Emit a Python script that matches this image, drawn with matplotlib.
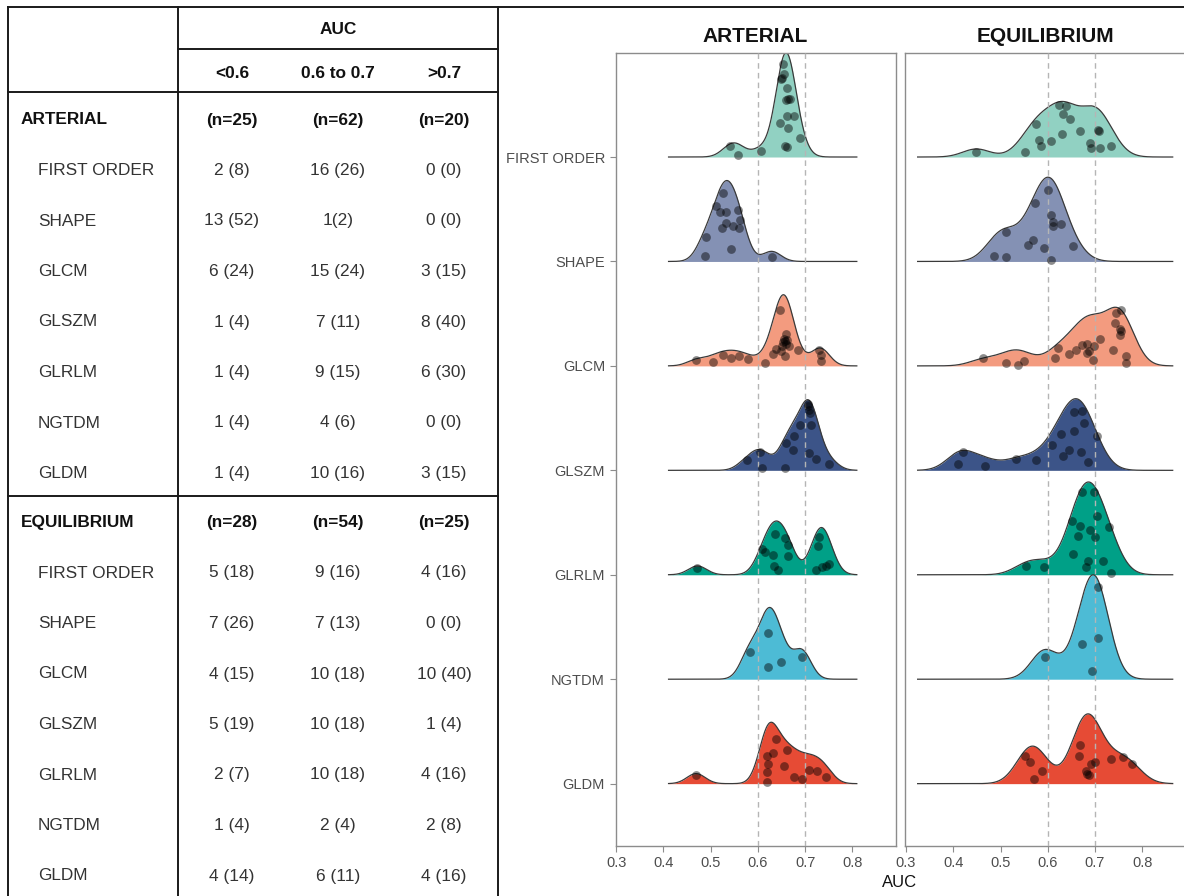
import numpy as np
import matplotlib
matplotlib.use("Agg")
import matplotlib.pyplot as plt

plt.rcParams['font.family'] = ['Liberation Sans', 'DejaVu Sans']

W, H = 1184, 896

# ===== TABLE DATA =====
auc_bins = ["<0.6", "0.6 to 0.7", ">0.7"]
features = ["FIRST ORDER", "SHAPE", "GLCM", "GLSZM", "GLRLM", "NGTDM", "GLDM"]

arterial_n = ["(n=25)", "(n=62)", "(n=20)"]
arterial_counts = [
    ["2 (8)", "16 (26)", "0 (0)"],
    ["13 (52)", "1(2)", "0 (0)"],
    ["6 (24)", "15 (24)", "3 (15)"],
    ["1 (4)", "7 (11)", "8 (40)"],
    ["1 (4)", "9 (15)", "6 (30)"],
    ["1 (4)", "4 (6)", "0 (0)"],
    ["1 (4)", "10 (16)", "3 (15)"],
]
equilibrium_n = ["(n=28)", "(n=54)", "(n=25)"]
equilibrium_counts = [
    ["5 (18)", "9 (16)", "4 (16)"],
    ["7 (26)", "7 (13)", "0 (0)"],
    ["4 (15)", "10 (18)", "10 (40)"],
    ["5 (19)", "10 (18)", "1 (4)"],
    ["2 (7)", "10 (18)", "4 (16)"],
    ["1 (4)", "2 (4)", "2 (8)"],
    ["4 (14)", "6 (11)", "4 (16)"],
]

# ===== RIDGE DATA (AUC per model, and the vertical jitter of each dot) =====
art_first_order = [0.540, 0.558, 0.607, 0.654, 0.656, 0.648, 0.650, 0.661, 0.659, 0.667, 0.664, 0.662, 0.676, 0.646, 0.664, 0.688, 0.657, 0.661]
art_first_order_jit = [0.108, 0.016, 0.060, 0.888, 0.795, 0.747, 0.757, 0.658, 0.546, 0.553, 0.560, 0.393, 0.393, 0.323, 0.281, 0.179, 0.108, 0.099]
art_shape = [0.525, 0.511, 0.519, 0.532, 0.558, 0.563, 0.533, 0.547, 0.560, 0.524, 0.490, 0.542, 0.488, 0.629]
art_shape_jit = [0.655, 0.534, 0.470, 0.470, 0.495, 0.393, 0.368, 0.342, 0.323, 0.316, 0.234, 0.119, 0.048, 0.042]
art_glcm = [0.469, 0.504, 0.525, 0.542, 0.559, 0.579, 0.614, 0.646, 0.659, 0.655, 0.653, 0.650, 0.660, 0.666, 0.639, 0.657, 0.632, 0.658, 0.685, 0.662, 0.648, 0.730, 0.733, 0.733]
art_glcm_jit = [0.055, 0.038, 0.102, 0.077, 0.096, 0.064, 0.032, 0.537, 0.304, 0.262, 0.224, 0.192, 0.208, 0.192, 0.160, 0.240, 0.112, 0.096, 0.150, 0.250, 0.140, 0.153, 0.102, 0.048]
art_glszm = [0.576, 0.604, 0.609, 0.657, 0.659, 0.676, 0.674, 0.690, 0.706, 0.708, 0.711, 0.713, 0.708, 0.722, 0.751, 0.705]
art_glszm_jit = [0.096, 0.172, 0.022, 0.022, 0.262, 0.332, 0.192, 0.435, 0.639, 0.581, 0.550, 0.435, 0.167, 0.109, 0.064, 0.620]
art_glrlm = [0.472, 0.635, 0.609, 0.614, 0.632, 0.633, 0.642, 0.657, 0.664, 0.664, 0.730, 0.727, 0.723, 0.736, 0.743, 0.750]
art_glrlm_jit = [0.061, 0.390, 0.246, 0.214, 0.188, 0.086, 0.041, 0.348, 0.287, 0.182, 0.358, 0.278, 0.041, 0.073, 0.086, 0.105]
art_ngtdm = [0.621, 0.583, 0.621, 0.648, 0.693]
art_ngtdm_jit = [0.447, 0.258, 0.121, 0.163, 0.211]
art_gldm = [0.469, 0.638, 0.631, 0.619, 0.621, 0.619, 0.619, 0.662, 0.656, 0.676, 0.693, 0.709, 0.725, 0.743]
art_gldm_jit = [0.083, 0.425, 0.297, 0.265, 0.189, 0.115, 0.019, 0.323, 0.170, 0.061, 0.042, 0.128, 0.119, 0.067]

eq_first_order = [0.449, 0.551, 0.575, 0.582, 0.585, 0.606, 0.624, 0.638, 0.632, 0.648, 0.630, 0.668, 0.689, 0.692, 0.708, 0.706, 0.711, 0.734]
eq_first_order_jit = [0.051, 0.045, 0.313, 0.163, 0.108, 0.153, 0.495, 0.489, 0.409, 0.361, 0.220, 0.249, 0.137, 0.083, 0.252, 0.262, 0.086, 0.105]
eq_shape = [0.601, 0.574, 0.606, 0.611, 0.611, 0.629, 0.511, 0.569, 0.558, 0.592, 0.653, 0.606, 0.487, 0.511]
eq_shape_jit = [0.687, 0.559, 0.447, 0.374, 0.335, 0.354, 0.278, 0.201, 0.160, 0.125, 0.144, 0.016, 0.048, 0.038]
eq_glcm = [0.463, 0.511, 0.536, 0.550, 0.616, 0.622, 0.645, 0.659, 0.684, 0.682, 0.687, 0.696, 0.697, 0.672, 0.711, 0.738, 0.742, 0.745, 0.756, 0.752, 0.755, 0.752, 0.765, 0.765]
eq_glcm_jit = [0.071, 0.032, 0.007, 0.048, 0.071, 0.172, 0.118, 0.150, 0.208, 0.128, 0.140, 0.055, 0.192, 0.200, 0.262, 0.150, 0.415, 0.511, 0.534, 0.351, 0.335, 0.294, 0.090, 0.032]
eq_glszm = [0.421, 0.411, 0.468, 0.532, 0.576, 0.609, 0.627, 0.632, 0.646, 0.655, 0.655, 0.672, 0.677, 0.670, 0.685, 0.704]
eq_glszm_jit = [0.172, 0.061, 0.038, 0.109, 0.096, 0.246, 0.351, 0.141, 0.192, 0.374, 0.562, 0.572, 0.454, 0.176, 0.080, 0.326]
eq_glrlm = [0.554, 0.592, 0.653, 0.652, 0.669, 0.664, 0.673, 0.698, 0.690, 0.699, 0.704, 0.729, 0.717, 0.734, 0.685, 0.680]
eq_glrlm_jit = [0.086, 0.073, 0.201, 0.517, 0.469, 0.374, 0.788, 0.788, 0.431, 0.358, 0.559, 0.453, 0.128, 0.016, 0.134, 0.073]
eq_ngtdm = [0.706, 0.706, 0.673, 0.594, 0.694]
eq_ngtdm_jit = [0.887, 0.393, 0.335, 0.217, 0.080]
eq_gldm = [0.551, 0.563, 0.587, 0.571, 0.669, 0.666, 0.692, 0.701, 0.680, 0.684, 0.687, 0.734, 0.759, 0.778]
eq_gldm_jit = [0.268, 0.211, 0.125, 0.042, 0.368, 0.268, 0.189, 0.211, 0.122, 0.093, 0.085, 0.233, 0.259, 0.189]

colors = ["#91D1C2", "#8491B4", "#F39B7F", "#3C5488", "#00A087", "#4DBBD5", "#E64B35"]
cutoffs = [0.6, 0.7]

panels = [
    ("ARTERIAL",
     [art_first_order, art_shape, art_glcm, art_glszm, art_glrlm, art_ngtdm, art_gldm],
     [art_first_order_jit, art_shape_jit, art_glcm_jit, art_glszm_jit, art_glrlm_jit, art_ngtdm_jit, art_gldm_jit]),
    ("EQUILIBRIUM",
     [eq_first_order, eq_shape, eq_glcm, eq_glszm, eq_glrlm, eq_ngtdm, eq_gldm],
     [eq_first_order_jit, eq_shape_jit, eq_glcm_jit, eq_glszm_jit, eq_glrlm_jit, eq_ngtdm_jit, eq_gldm_jit]),
]


def bw_nrd0(x):
    x = np.asarray(x)
    hi = x.std(ddof=1)
    q75, q25 = np.percentile(x, [75, 25])
    lo = min(hi, (q75 - q25) / 1.34)
    if lo == 0:
        lo = hi
    return 0.9 * lo * len(x) ** -0.2


def kde(x, grid, bw):
    x = np.asarray(x)
    z = (grid[:, None] - x[None, :]) / bw
    return np.exp(-0.5 * z * z).sum(axis=1) / (len(x) * bw * np.sqrt(2 * np.pi))


# joint bandwidth per panel (mean of group bandwidths), density over panel range +- 3 bw,
# heights scaled to the tallest ridge of each panel
dens = []
for title, groups, jits in panels:
    bw = np.mean([bw_nrd0(g) for g in groups])
    allx = np.concatenate(groups)
    grid = np.linspace(allx.min() - 3 * bw, allx.max() + 3 * bw, 512)
    ds = [kde(g, grid, bw) for g in groups]
    top = max(d.max() for d in ds)
    dens.append((grid, [d / top for d in ds]))


def px(x0, y0, w, h):
    return [x0 / W, 1 - (y0 + h) / H, w / W, h / H]


fig = plt.figure(figsize=(W / 100, H / 100), dpi=100)

# ===== TABLE =====
tab = fig.add_axes([0, 0, 1, 1])
tab.set_xlim(0, W)
tab.set_ylim(H, 0)
tab.axis("off")
lc = "#1a1a1a"
lw = 1.4
tab.plot([8, W], [7, 7], color=lc, lw=lw)
for xv in [8.3, 178.3, 497.5]:
    tab.plot([xv, xv], [7, H + 5], color=lc, lw=lw)
tab.plot([178.3, 497.5], [49.3, 49.3], color=lc, lw=lw)
tab.plot([8.3, 497.5], [92.3, 92.3], color=lc, lw=lw)
tab.plot([8.3, 497.5], [496, 496], color=lc, lw=lw)

col_x = [232, 338, 444]
fs = 12.4
tab.text(338, 30, "AUC", ha="center", va="center", fontsize=fs, fontweight="bold", color="#111111")
for cx, lab in zip(col_x, auc_bins):
    tab.text(cx, 73, lab, ha="center", va="center", fontsize=fs, fontweight="bold", color="#111111")

row_gap = 50.5
for y0, phase, nlabels, counts in [(120, "ARTERIAL", arterial_n, arterial_counts),
                                   (522.5, "EQUILIBRIUM", equilibrium_n, equilibrium_counts)]:
    tab.text(21, y0, phase, ha="left", va="center", fontsize=fs, fontweight="bold", color="#111111")
    for cx, lab in zip(col_x, nlabels):
        tab.text(cx, y0, lab, ha="center", va="center", fontsize=fs, fontweight="bold", color="#111111")
    for i, (feat, row) in enumerate(zip(features, counts)):
        yy = y0 + (i + 1) * row_gap
        tab.text(38, yy, feat, ha="left", va="center", fontsize=fs, color="#333333")
        for cx, val in zip(col_x, row):
            tab.text(cx, yy, val, ha="center", va="center", fontsize=fs, color="#333333")

# ===== RIDGELINES =====
positions = np.arange(len(features), 0, -1)
ax_boxes = [px(615.5, 53.3, 280.2, 792.7), px(905.3, 53.3, 280.2, 792.7)]
centers = [755.6, 1045.4]
for k, ((title, groups, jits), (grid, ds)) in enumerate(zip(panels, dens)):
    ax = fig.add_axes(ax_boxes[k])
    for i, (g, j, h, c, pos) in enumerate(zip(groups, jits, ds, colors, positions)):
        ax.fill_between(grid, pos, pos + h, color=c, lw=0, zorder=2 + i)
        ax.plot(grid, pos + h, color="#3a3a3a", lw=0.9, zorder=2 + i)
        ax.scatter(g, pos + np.asarray(j), s=40, color="black", alpha=0.45, lw=0, zorder=20)
    for cv in cutoffs:
        ax.axvline(cv, color="#b5b5b5", lw=1.0, ls=(0, (4, 3)), zorder=15)
    ax.set_xlim(0.2985, 0.8915)
    ax.set_ylim(0.403, 7.993)
    ax.set_xticks([0.3, 0.4, 0.5, 0.6, 0.7, 0.8])
    ax.set_xticklabels(["0.3", "0.4", "0.5", "0.6", "0.7", "0.8"])
    if k == 0:
        ax.set_yticks(positions)
        ax.set_yticklabels(features)
    else:
        ax.set_yticks([])
    ax.tick_params(colors="#8c8c8c", labelcolor="#4d4d4d", labelsize=10.5, length=4, width=0.8)
    for sp in ax.spines.values():
        sp.set_color("#8c8c8c")
        sp.set_linewidth(1.0)
    fig.text(centers[k] / W, 1 - 37 / H, title, ha="center", va="center",
             fontsize=15, fontweight="bold", color="#111111")

fig.text(900 / W, 1 - 882 / H, "AUC", ha="center", va="center", fontsize=12, color="#111111")

fig.savefig("out.png", dpi=100)
